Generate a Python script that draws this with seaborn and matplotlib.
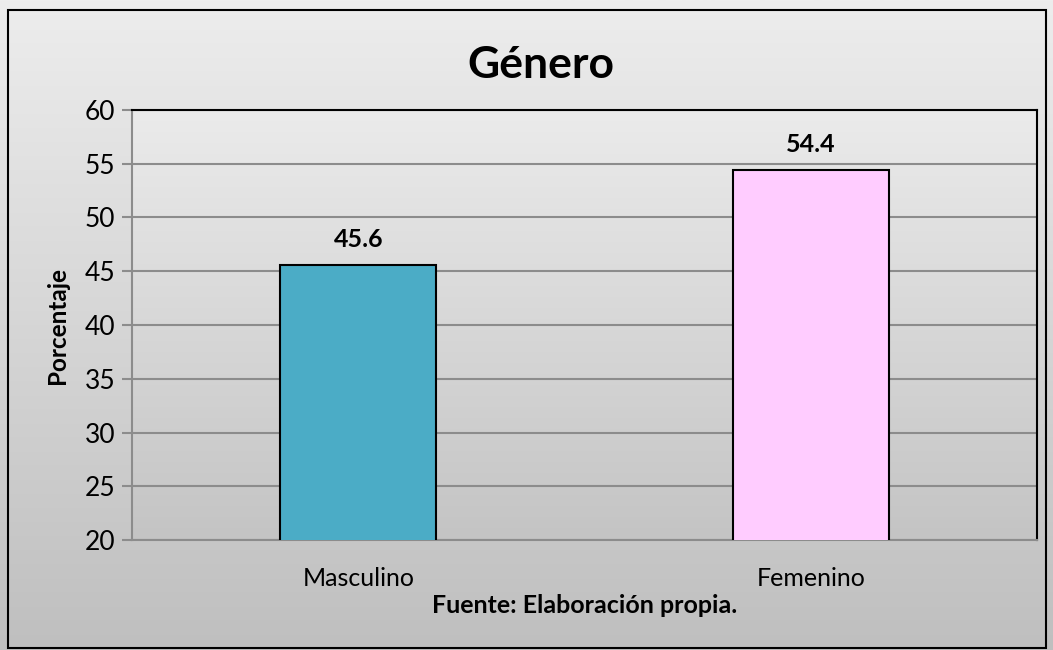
import numpy as np
import pandas as pd
import seaborn as sns
import matplotlib.pyplot as plt
from matplotlib.patches import Rectangle

categorias = ['Masculino', 'Femenino']
porcentajes = [45.6, 54.4]
colores = {'Masculino': '#4BACC6', 'Femenino': '#FFCCFF'}
y_ticks = [20, 25, 30, 35, 40, 45, 50, 55, 60]

sns.set_style('white')
plt.rcParams['font.family'] = ['Lato', 'DejaVu Sans']
plt.rcParams['text.color'] = 'black'
plt.rcParams['axes.labelcolor'] = 'black'
plt.rcParams['xtick.color'] = 'black'
plt.rcParams['ytick.color'] = 'black'

df = pd.DataFrame({'genero': categorias, 'pct': porcentajes})

fig = plt.figure(figsize=(10.53, 6.5), dpi=100)

# fondo degradado de la figura (claro arriba, oscuro abajo)
bg = fig.add_axes([0, 0, 1, 1], zorder=-10)
grad = np.linspace(0, 1, 256).reshape(-1, 1)
bg.imshow(grad, cmap=sns.blend_palette(['#ededed', '#bfbfbf'], as_cmap=True),
          aspect='auto', extent=[0, 1, 0, 1])
bg.axis('off')
fig.patches.append(Rectangle((8 / 1053, 2 / 650), 1038 / 1053, 638 / 650,
                             transform=fig.transFigure, fill=False,
                             edgecolor='black', linewidth=1.5, zorder=5))

ax = fig.add_axes([0.1254, 0.1692, 0.8594, 0.6616])
ax.imshow(grad, cmap=sns.blend_palette(['#ebebeb', '#c4c4c4'], as_cmap=True),
          aspect='auto', extent=[-0.5, 1.5, 20, 60], zorder=0)

sns.barplot(data=df, x='genero', y='pct', hue='genero', palette=colores,
            saturation=1, width=0.345, edgecolor='black', linewidth=1.5,
            legend=False, ax=ax, zorder=3)

ax.set_xlim(-0.5, 1.5)
ax.set_ylim(20, 60)
ax.set_yticks(y_ticks)
ax.yaxis.grid(True, color='#8c8c8c', linewidth=1.5, zorder=1)
ax.set_axisbelow(True)

for i, v in enumerate(porcentajes):
    ax.text(i, v + 1.3, f'{v}', ha='center', va='bottom',
            fontsize=18, fontweight='bold', zorder=4)

for s in ['top', 'right']:
    ax.spines[s].set_color('black')
    ax.spines[s].set_linewidth(1.5)
for s in ['left', 'bottom']:
    ax.spines[s].set_color('#8c8c8c')
    ax.spines[s].set_linewidth(1.5)

ax.tick_params(axis='y', which='both', left=True, length=7, width=1.5,
               color='#8c8c8c', labelsize=19, labelcolor='black', pad=5)
ax.tick_params(axis='x', bottom=False, labelsize=18, labelcolor='black', pad=16)

ax.set_ylabel('Porcentaje', fontsize=17.5, fontweight='bold', labelpad=11)
ax.set_xlabel('Fuente: Elaboración propia.', fontsize=18, fontweight='bold',
              labelpad=3)
fig.text(541 / 1053, 1 - 65 / 650, 'Género', ha='center',
         va='center', fontsize=32, fontweight='bold')

fig.savefig('out.png', dpi=100)
